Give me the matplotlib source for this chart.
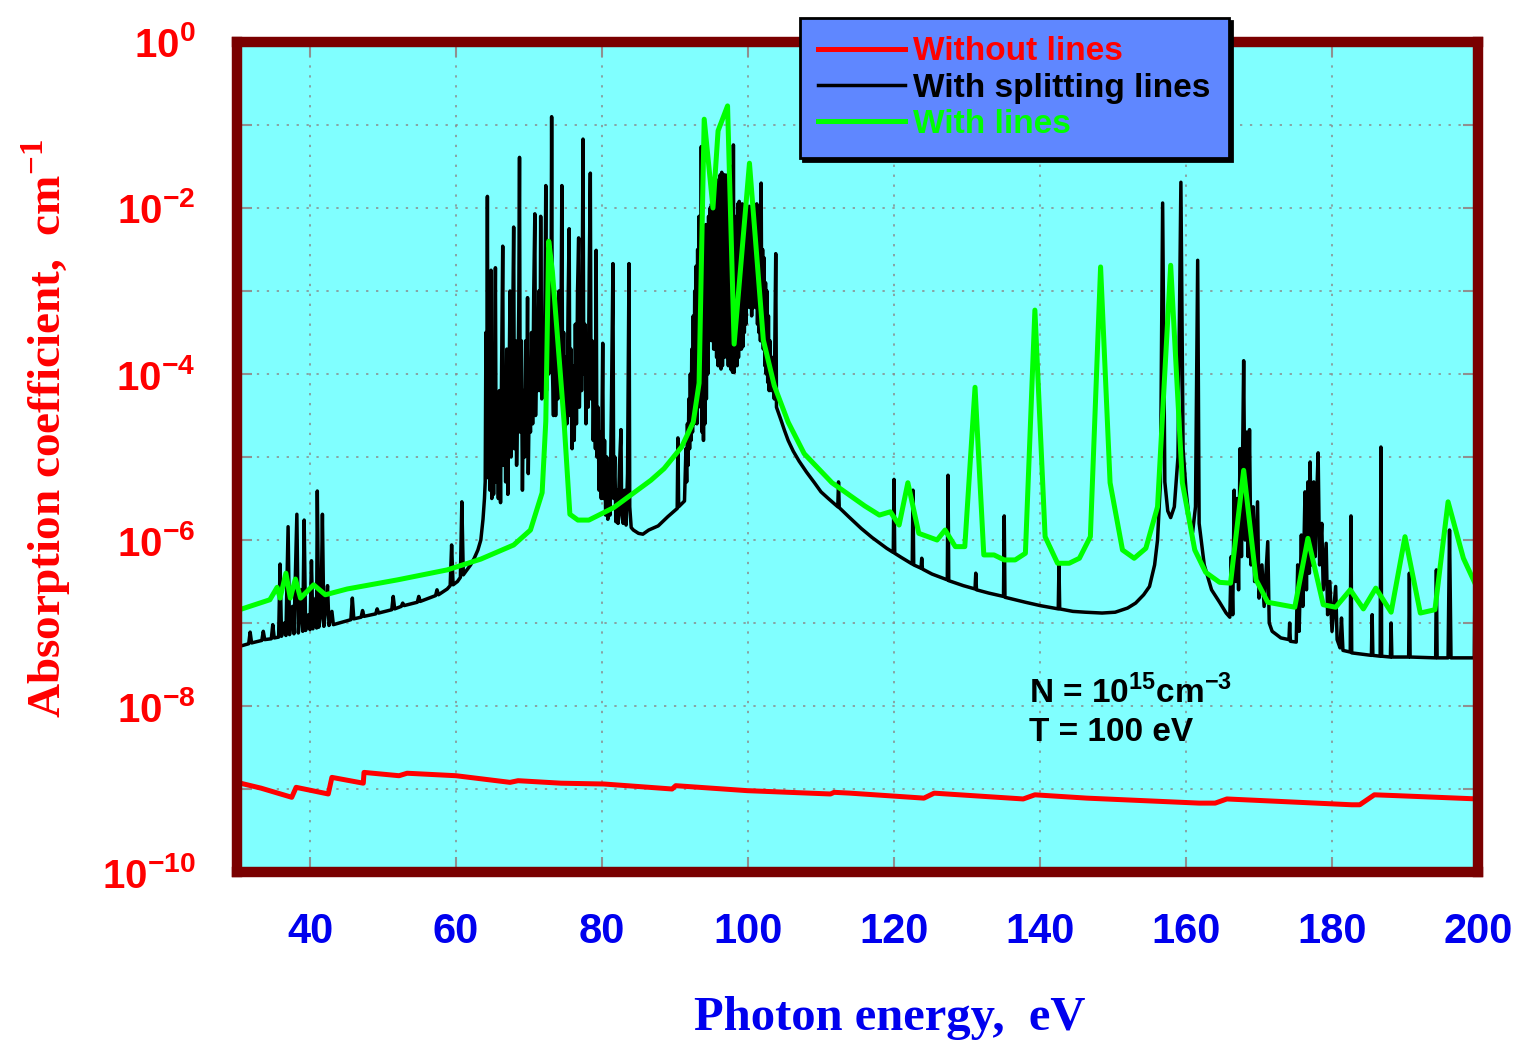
import numpy as np
import matplotlib
matplotlib.use("Agg")
import matplotlib.pyplot as plt
from matplotlib.ticker import FixedLocator, FuncFormatter

plt.rcParams['mathtext.fontset'] = 'custom'
plt.rcParams['mathtext.bf'] = 'Liberation Sans:bold'
plt.rcParams['mathtext.rm'] = 'Liberation Serif:bold'

# values are log10 of the absorption coefficient (cm^-1)

# without lines (red)
red_x = [30.0, 33.3, 37.5, 38.1, 42.5, 43.0, 47.3, 47.4, 52.2, 53.3, 60.0, 67.4, 68.5,
         74.4, 80.3, 89.6, 90.1, 99.9, 111.3, 111.8, 114.0, 124.1, 125.5, 137.7, 139.3,
         146.4, 161.8, 164.0, 165.6, 182.7, 183.8, 185.8, 188.8, 200.0]
red_log = [-8.92, -8.99, -9.10, -8.98, -9.06, -8.86, -8.93, -8.80, -8.84, -8.81, -8.84, -8.92, -8.90,
           -8.93, -8.94, -9.00, -8.96, -9.02, -9.06, -9.04, -9.05, -9.11, -9.05, -9.12, -9.07,
           -9.11, -9.17, -9.17, -9.12, -9.19, -9.19, -9.07, -9.08, -9.12]

# with lines (green)
green_x = [30.0, 34.5, 35.5, 35.9, 36.7, 37.3, 38.0, 38.7, 40.5, 42.1, 45.1, 52.0, 58.8, 63.4,
           67.9, 70.2, 71.8, 72.3, 72.7, 73.2, 74.8, 75.6, 76.7, 78.2, 81.6, 86.7, 88.5, 90.9,
           92.5, 93.3, 93.6, 94.0, 95.2, 95.9, 97.2, 98.1, 100.2, 102.1, 103.6, 105.5, 107.7,
           111.5, 116.0, 118.0, 119.5, 120.7, 121.9, 123.4, 125.9, 127.0, 128.4, 129.7, 131.1,
           132.3, 133.7, 135.1, 136.6, 138.0, 139.3, 140.7, 142.4, 144.0, 145.4, 146.9, 148.3,
           149.6, 151.3, 152.9, 154.5, 156.1, 157.9, 159.5, 161.2, 162.7, 164.6, 166.1, 167.9,
           169.6, 171.2, 174.9, 176.7, 178.8, 180.5, 182.5, 184.3, 186.0, 188.1, 190.0, 192.1,
           194.1, 195.9, 198.0, 200.0]
green_log = [-6.85, -6.72, -6.57, -6.70, -6.40, -6.70, -6.47, -6.70, -6.54, -6.66, -6.59, -6.48, -6.36, -6.23,
             -6.06, -5.88, -5.43, -4.57, -2.40, -2.76, -4.57, -5.69, -5.76, -5.76, -5.61, -5.28, -5.14, -4.88,
             -4.58, -4.11, -2.73, -0.93, -2.00, -1.07, -0.77, -3.64, -1.46, -3.59, -4.14, -4.58, -4.96,
             -5.31, -5.59, -5.70, -5.66, -5.82, -5.31, -5.92, -6.00, -5.88, -6.08, -6.08, -4.16,
             -6.18, -6.18, -6.24, -6.24, -6.16, -3.23, -5.96, -6.28, -6.28, -6.22, -5.96, -2.71,
             -5.31, -6.12, -6.22, -6.10, -5.60, -2.69, -5.31, -6.12, -6.39, -6.51, -6.52, -5.16,
             -6.48, -6.75, -6.81, -5.98, -6.78, -6.81, -6.60, -6.83, -6.58, -6.87, -5.96, -6.88,
             -6.84, -5.54, -6.22, -6.60]

# with splitting lines (black), (energy, log10) pairs in pieces
black_low = [
    (30.0, -7.29), (31.6, -7.25), (31.8, -7.11), (32.0, -7.24), (33.4, -7.21), (33.6, -7.10),
    (33.8, -7.20), (34.7, -7.19), (34.9, -7.02), (35.1, -7.18), (35.7, -7.17), (35.9, -6.29),
    (36.1, -7.16), (36.5, -7.00), (36.7, -7.15), (37.0, -5.84), (37.2, -7.14), (37.6, -6.80),
    (37.8, -7.13), (38.2, -5.69), (38.4, -7.12), (38.8, -6.60), (39.0, -7.10), (39.2, -5.76),
    (39.4, -7.09), (39.8, -6.90), (40.0, -7.08), (40.2, -6.25), (40.4, -7.07), (40.8, -6.70),
    (40.9, -7.06), (41.0, -5.41), (41.2, -7.05), (41.5, -6.90), (41.7, -5.69), (41.9, -7.04),
    (42.2, -6.80), (42.4, -6.55), (42.6, -7.03), (43.0, -6.86), (43.2, -7.02), (45.6, -6.96),
    (45.8, -6.70), (46.0, -6.95), (47.0, -6.93), (47.2, -6.85), (47.4, -6.92), (49.0, -6.89),
    (49.2, -6.83), (49.4, -6.88), (51.2, -6.84), (51.4, -6.68), (51.6, -6.83), (52.5, -6.80),
    (52.7, -6.76), (52.9, -6.79), (54.7, -6.75), (54.9, -6.68), (55.1, -6.74), (57.2, -6.67),
    (57.4, -6.60), (57.6, -6.66), (58.8, -6.59), (59.2, -6.55), (59.4, -6.06), (59.6, -6.54),
    (60.2, -6.50), (60.6, -6.45), (60.8, -5.54), (61.0, -6.42), (61.5, -6.36), (62.0, -6.30),
    (62.5, -6.22), (63.0, -6.12),
]
black_forest1 = [
    (63.4, -6.00), (63.7, -5.75), (63.9, -5.50), (64.0, -5.30), (64.1, -3.50), (64.2, -5.20),
    (64.3, -1.86), (64.4, -5.25), (64.55, -3.20), (64.65, -5.40), (64.8, -2.75), (64.9, -5.50),
    (65.05, -4.30), (65.15, -5.45), (65.3, -3.80), (65.4, -2.72), (65.5, -5.30), (65.65, -4.50),
    (65.8, -5.50), (65.95, -4.20), (66.1, -5.55), (66.25, -3.90), (66.4, -2.46), (66.5, -5.10),
    (66.65, -4.00), (66.8, -5.30), (66.95, -3.70), (67.1, -5.45), (67.25, -4.30), (67.4, -3.00),
    (67.55, -5.00), (67.7, -4.00), (67.9, -2.23), (68.0, -4.90), (68.15, -3.60), (68.3, -5.10),
    (68.45, -4.40), (68.6, -3.20), (68.7, -1.39), (68.8, -4.70), (68.95, -3.60), (69.1, -5.40),
    (69.25, -4.20), (69.4, -5.00), (69.55, -3.60), (69.7, -4.40), (69.8, -3.08), (69.9, -5.20),
    (70.05, -4.20), (70.2, -4.70), (70.35, -3.50), (70.5, -4.60), (70.65, -3.00), (70.8, -2.07),
    (70.9, -4.50), (71.05, -3.60), (71.2, -4.20), (71.35, -3.00), (71.5, -4.20), (71.6, -2.10),
    (71.75, -4.30), (71.9, -3.40), (72.05, -4.10), (72.2, -3.00), (72.3, -1.73), (72.4, -4.20),
    (72.55, -3.20), (72.7, -4.00), (72.85, -2.60), (73.0, -3.80), (73.1, -0.90), (73.2, -3.90),
    (73.35, -4.50), (73.5, -3.30), (73.65, -4.50), (73.8, -3.60), (73.95, -4.30), (74.1, -3.00),
    (74.25, -4.00), (74.4, -3.20), (74.5, -1.73), (74.6, -4.20), (74.75, -3.50), (74.9, -4.70),
    (75.05, -3.80), (75.2, -4.60), (75.35, -3.20), (75.5, -2.25), (75.6, -4.50), (75.75, -3.70),
    (75.9, -4.90), (76.05, -3.90), (76.2, -4.80), (76.35, -3.40), (76.5, -4.60), (76.65, -3.00),
    (76.8, -2.36), (76.9, -4.40), (77.05, -3.20), (77.2, -4.20), (77.3, -2.80), (77.4, -1.17),
    (77.5, -4.00), (77.65, -3.40), (77.8, -4.60), (77.95, -3.60), (78.1, -4.40), (78.25, -2.80),
    (78.4, -1.58), (78.5, -4.30), (78.65, -3.60), (78.8, -4.80), (78.95, -4.00), (79.1, -4.90),
    (79.2, -2.51), (79.3, -5.00), (79.45, -4.40), (79.6, -5.40), (79.75, -4.70), (79.9, -5.50),
    (80.0, -4.50), (80.1, -3.63), (80.2, -5.50), (80.35, -4.80), (80.5, -5.70), (80.65, -5.00),
    (80.8, -5.75), (80.95, -5.10), (81.1, -5.70), (81.3, -4.30), (81.5, -2.67), (81.6, -5.50),
    (81.75, -5.00), (81.9, -5.78), (82.05, -5.40), (82.2, -5.80), (82.4, -5.10), (82.6, -4.67),
    (82.7, -5.70), (82.9, -5.80), (83.1, -5.40), (83.3, -5.82), (83.5, -5.20), (83.7, -2.67),
    (83.8, -5.60), (84.0, -5.85), (84.3, -5.88),
]
black_mid = [
    (85.0, -5.92), (85.6, -5.93), (86.4, -5.88), (87.7, -5.83), (89.0, -5.72), (90.3, -5.62),
    (90.4, -4.77), (90.5, -5.60), (91.3, -5.53),
]
black_forest2 = [
    (91.5, -4.90), (91.6, -5.30), (91.7, -4.60), (91.8, -5.10), (91.9, -4.30), (92.0, -4.90),
    (92.1, -4.00), (92.2, -4.80), (92.3, -3.70), (92.4, -4.70), (92.5, -3.30), (92.6, -4.60),
    (92.7, -3.00), (92.8, -4.50), (92.9, -2.70), (93.0, -4.60), (93.1, -2.50), (93.2, -4.40),
    (93.3, -2.10), (93.4, -4.20), (93.5, -2.30), (93.55, -4.00), (93.6, -1.26), (93.7, -4.70),
    (93.8, -2.60), (93.9, -4.80), (94.0, -2.50), (94.1, -4.60), (94.2, -2.20), (94.3, -4.30),
    (94.4, -2.40), (94.5, -4.00), (94.6, -2.10), (94.7, -3.60), (94.8, -2.00), (94.9, -3.50),
    (95.0, -1.95), (95.1, -3.60), (95.2, -1.87), (95.3, -3.70), (95.4, -1.80), (95.5, -3.70),
    (95.6, -1.65), (95.7, -3.80), (95.8, -1.75), (95.9, -3.90), (96.0, -1.70), (96.1, -3.90),
    (96.2, -1.60), (96.3, -3.94), (96.4, -1.57), (96.5, -3.90), (96.6, -1.70), (96.7, -3.80),
    (96.8, -1.60), (96.9, -3.70), (97.0, -1.80), (97.1, -3.80), (97.2, -1.60), (97.3, -3.90),
    (97.4, -1.90), (97.5, -3.90), (97.6, -1.80), (97.7, -3.95), (97.8, -1.50), (97.9, -3.98),
    (98.0, -1.24), (98.1, -3.98), (98.2, -2.20), (98.3, -3.90), (98.4, -2.10), (98.5, -3.90),
    (98.6, -1.95), (98.7, -3.80), (98.8, -1.92), (98.9, -3.70), (99.0, -2.00), (99.1, -3.70),
    (99.2, -1.95), (99.3, -3.67), (99.4, -2.00), (99.5, -3.50), (99.6, -1.95), (99.7, -3.40),
    (99.8, -2.10), (99.9, -3.20), (100.0, -2.00), (100.1, -3.10), (100.2, -1.98), (100.3, -3.20),
    (100.4, -2.00), (100.5, -3.30), (100.6, -2.10), (100.7, -3.20), (100.8, -2.10), (100.9, -3.10),
    (101.0, -2.00), (101.1, -3.20), (101.2, -1.95), (101.3, -3.40), (101.4, -2.20), (101.5, -3.50),
    (101.6, -2.10), (101.7, -3.60), (101.8, -1.70), (101.9, -3.60), (102.0, -2.50), (102.1, -3.70),
    (102.2, -2.60), (102.3, -3.90), (102.4, -2.90), (102.5, -4.00), (102.6, -3.00), (102.7, -4.10),
    (102.8, -3.30), (102.9, -4.20), (103.0, -3.60), (103.2, -4.20), (103.4, -3.80), (103.6, -4.30),
    (103.8, -2.55), (103.9, -4.40),
]
black_tail = [
    (104.5, -4.55), (105.0, -4.68), (105.5, -4.80), (106.2, -4.93), (107.0, -5.05), (108.0, -5.18),
    (109.1, -5.31), (110.0, -5.42), (111.0, -5.50), (112.3, -5.60), (112.4, -5.30), (112.5, -5.61),
    (113.8, -5.72), (115.5, -5.86), (117.0, -5.97), (119.0, -6.10), (119.9, -6.15), (120.0, -5.27),
    (120.1, -6.16), (121.0, -6.21), (122.5, -6.29), (122.6, -5.40), (122.7, -6.30), (123.7, -6.34),
    (123.8, -6.22), (123.9, -6.35), (125.2, -6.41), (127.3, -6.48), (127.4, -5.22), (127.5, -6.49),
    (129.5, -6.55), (131.1, -6.59), (131.2, -6.40), (131.3, -6.60), (133.0, -6.64), (135.0, -6.68),
    (135.1, -5.71), (135.2, -6.69), (138.0, -6.75), (140.0, -6.79), (142.5, -6.83), (142.6, -6.30),
    (142.7, -6.83), (144.5, -6.86), (146.2, -6.87), (148.5, -6.88), (150.3, -6.87), (152.0, -6.82),
    (153.1, -6.76), (154.2, -6.66), (155.0, -6.56), (155.7, -6.30), (156.1, -6.00), (156.5, -5.30),
    (156.8, -1.94), (157.1, -5.30), (157.5, -5.65), (157.9, -5.73), (158.4, -5.60), (158.9, -5.00),
    (159.3, -1.69), (159.6, -4.90), (160.0, -5.40), (160.5, -5.80), (160.9, -5.91), (161.3, -5.60),
    (161.6, -2.63), (161.8, -5.80), (162.5, -6.30), (163.5, -6.60), (164.6, -6.75), (165.5, -6.88),
    (166.0, -6.93), (166.2, -6.20), (166.4, -6.90), (166.6, -5.40), (166.8, -6.50), (167.0, -5.50),
    (167.2, -6.60), (167.4, -4.90), (167.6, -6.20), (167.9, -3.84), (168.1, -6.00), (168.3, -4.70),
    (168.5, -6.20), (168.7, -4.67), (168.9, -6.30), (169.2, -5.60), (169.4, -6.50), (169.8, -5.54),
    (170.0, -6.70), (170.4, -6.30), (170.7, -6.80), (171.2, -6.02), (171.4, -7.00), (171.8, -7.10),
    (173.0, -7.18), (174.1, -7.20), (174.2, -7.00), (174.3, -7.22), (175.1, -7.23), (175.3, -6.30),
    (175.5, -7.10), (175.8, -5.94), (176.0, -6.80), (176.3, -5.42), (176.5, -6.60), (176.7, -5.30),
    (176.9, -6.40), (177.0, -5.06), (177.2, -6.30), (177.5, -5.30), (177.7, -6.20), (177.9, -5.50),
    (178.1, -4.95), (178.3, -6.30), (178.6, -5.80), (178.8, -6.60), (179.2, -6.04), (179.4, -6.90),
    (179.7, -6.50), (180.0, -7.10), (180.5, -6.56), (180.7, -7.20), (181.1, -7.30), (181.3, -6.94),
    (181.5, -7.33), (182.5, -7.35), (182.6, -5.71), (182.7, -7.36), (184.5, -7.38), (185.4, -7.39),
    (185.5, -6.90), (185.6, -7.39), (186.6, -7.40), (186.7, -4.88), (186.8, -7.40), (188.0, -7.41),
    (188.1, -7.00), (188.2, -7.41), (190.5, -7.41), (190.6, -6.40), (190.7, -7.41), (194.2, -7.42),
    (194.3, -6.36), (194.4, -7.42), (195.9, -7.42), (196.1, -5.88), (196.3, -7.42), (199.5, -7.42),
    (199.6, -6.33), (199.7, -6.33),
]

xticks = [40, 60, 80, 100, 120, 140, 160, 180, 200]
ydecades = list(range(-10, 1))

black = np.array(black_low + black_forest1 + black_mid + black_forest2 + black_tail)

fig = plt.figure(figsize=(15.19, 10.43), dpi=100)
ax = fig.add_axes([237 / 1519, 1 - 872 / 1043, 1241 / 1519, 830 / 1043])
ax.set_facecolor('#80FFFF')

ax.plot(black[:, 0], 10.0 ** black[:, 1], color='black', lw=2.5, label='With splitting lines', zorder=3)
ax.plot(green_x, 10.0 ** np.array(green_log), color='#00FF00', lw=3.6, label='With lines', zorder=4)
ax.plot(red_x, 10.0 ** np.array(red_log), color='#FF0000', lw=3.6, label='Without lines', zorder=5)

ax.set_yscale('log')
ax.set_xlim(30, 200)
ax.set_ylim(1e-10, 1)

ax.xaxis.set_major_locator(FixedLocator(xticks))
ax.yaxis.set_major_locator(FixedLocator([10.0 ** d for d in ydecades]))
ax.yaxis.set_minor_locator(FixedLocator([]))


def ylab(v, pos):
    d = int(round(np.log10(v)))
    if d % 2:
        return ''
    return r'$\mathbf{10^{%d}}$' % d


ax.yaxis.set_major_formatter(FuncFormatter(ylab))

ax.grid(True, which='major', color='#8a8a8a', linestyle=(0, (1.5, 5)), lw=1.1, zorder=1)
ax.tick_params(axis='both', which='major', direction='in', length=11, width=1.5, color='#909090',
               top=True, right=True)
ax.tick_params(axis='x', pad=29, labelsize=30, labelcolor='#0000EE')
ax.tick_params(axis='y', pad=30, labelsize=29, labelcolor='#FF0000')
for lab in ax.get_xticklabels():
    lab.set_fontfamily('Liberation Sans')
    lab.set_fontweight('bold')

for sp in ax.spines.values():
    sp.set_color('#7A0000')
    sp.set_linewidth(7.5)
    sp.set_zorder(6)

ax.set_xlabel('Photon energy,  eV', fontsize=35, color='#0000EE',
              fontfamily='Liberation Serif', fontweight='bold')
ax.xaxis.set_label_coords(0.526, -0.150)
ax.set_ylabel(r'Absorption coefficient,  cm$^{\mathrm{-1}}$', fontsize=34, color='#FF0000',
              fontfamily='Liberation Serif', fontweight='bold')
ax.yaxis.set_label_coords(-0.132, 0.535)

ax.text(0.638, 0.216, r'N = 10$^{\mathbf{15}}$cm$^{\mathbf{-3}}$', transform=ax.transAxes,
        fontsize=24, fontfamily='Liberation Sans', fontweight='bold', color='black', va='center')
ax.text(0.638, 0.168, 'T = 100 eV', transform=ax.transAxes,
        fontsize=24, fontfamily='Liberation Sans', fontweight='bold', color='black', va='center')

h, l = ax.get_legend_handles_labels()
order = [2, 0, 1]
leg = ax.legend([h[i] for i in order], [l[i] for i in order],
                loc='upper left', bbox_to_anchor=(800 / 1519, 1 - 18 / 1043),
                bbox_transform=fig.transFigure, borderaxespad=0,
                prop={'family': 'Liberation Sans', 'weight': 'bold', 'size': 24},
                labelcolor='linecolor', handlelength=2.6, handletextpad=0.25,
                labelspacing=0.16, borderpad=0.55, fancybox=False, framealpha=1,
                facecolor='#5F87FF', edgecolor='black',
                shadow={'color': 'black', 'alpha': 1})
leg.get_frame().set_linewidth(2)
leg.set_zorder(10)

fig.savefig('out.png', dpi=100)
